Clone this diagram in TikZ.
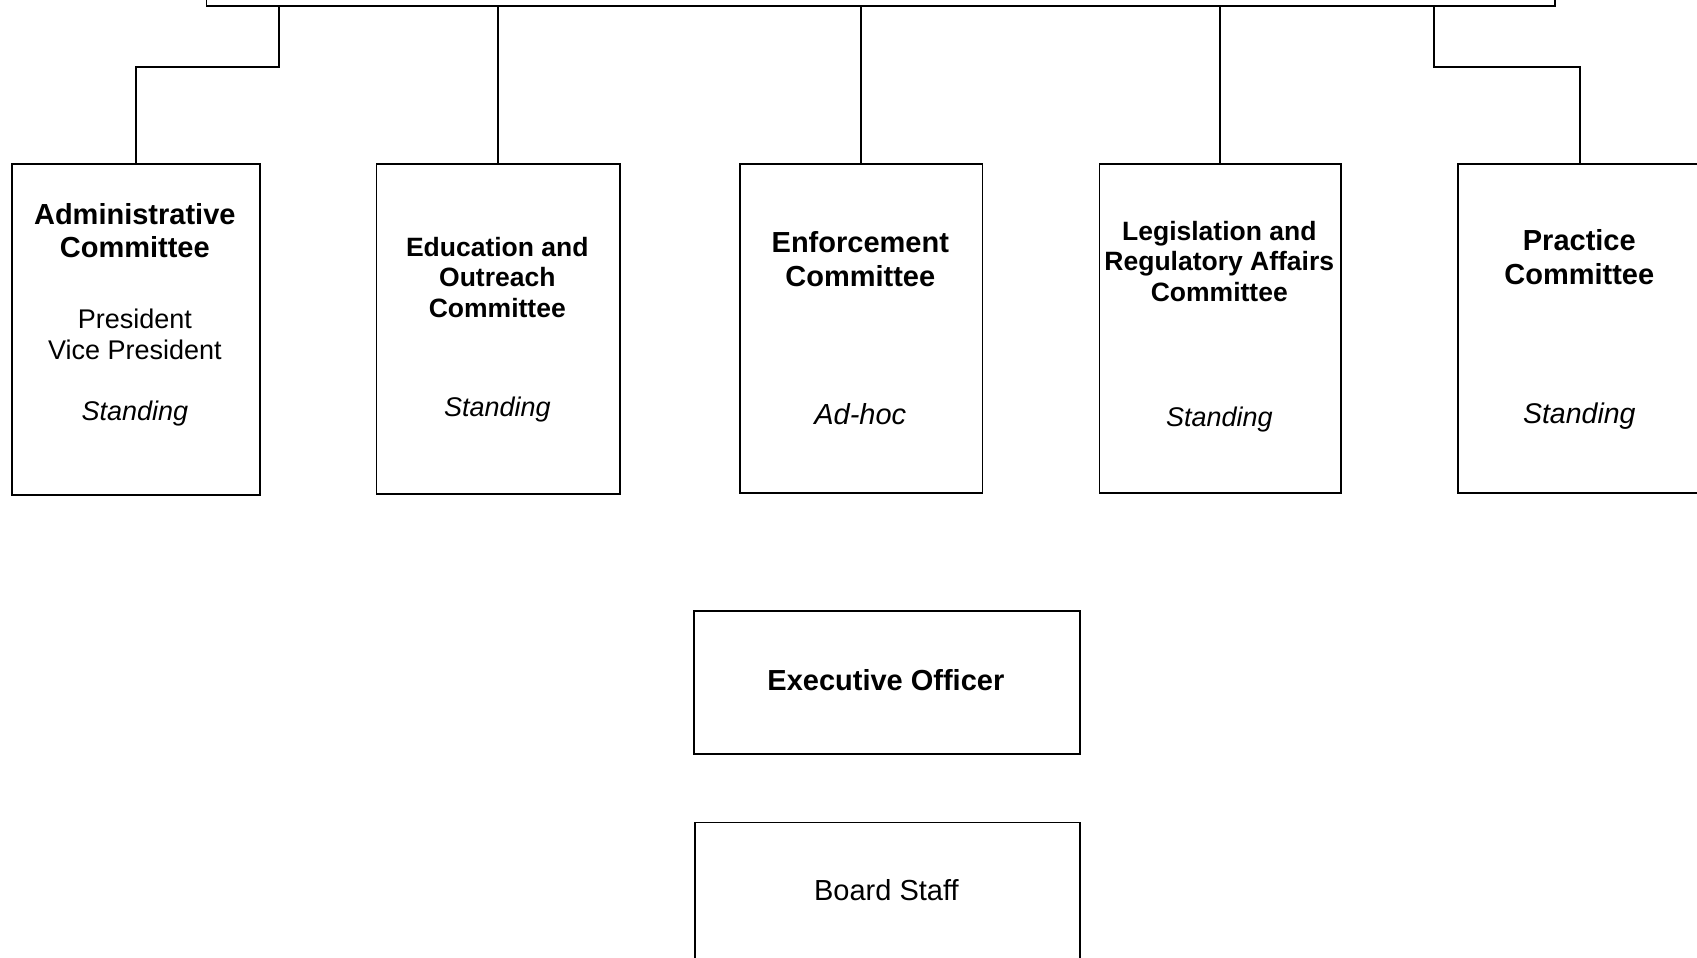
\documentclass[tikz,border=0pt]{standalone}
\usepackage{fontspec}
\setmainfont{Liberation Sans}
\begin{document}
\begin{tikzpicture}[x=1pt,y=-1pt,
  box/.style={draw, rectangle, inner sep=0pt, anchor=north west, line width=1.8pt},
  link/.style={line width=1.6pt},
  tbig/.style={anchor=base, inner sep=0pt, font=\bfseries\fontsize{29}{34}\selectfont},
  tmid/.style={anchor=base, inner sep=0pt, font=\bfseries\fontsize{26.5}{31}\selectfont},
  treg/.style={anchor=base, inner sep=0pt, font=\fontsize{27}{31}\selectfont},
  tit/.style={anchor=base, inner sep=0pt, font=\itshape\fontsize{27}{31}\selectfont}]
\useasboundingbox (0,0) rectangle (1697,958);
\clip (0,0) rectangle (1697,958);
% boxes
\node[box, anchor=south west, minimum width=1348.4pt, minimum height=80pt] (board) at (205.6,7) {};
\node[box, minimum width=248pt, minimum height=331pt] (admin) at (10.8,163.4) {};
\node[box, minimum width=243.4pt, minimum height=330pt] (edu) at (375.6,163.4) {};
\node[box, minimum width=242.6pt, minimum height=329pt] (enf) at (739,163.4) {};
\node[box, minimum width=241.5pt, minimum height=329pt] (leg) at (1098.5,163.4) {};
\node[box, minimum width=245pt, minimum height=329pt] (prac) at (1456.8,163.4) {};
\node[box, minimum width=386.3pt, minimum height=143pt] (exec) at (692.7,610.4) {};
\node[box, minimum width=385.2pt, minimum height=160pt] (staff) at (693.8,821.5) {};
% connectors
\coordinate (j1) at (279,67);
\coordinate (j5) at (1434,67);
\draw[link] (j1 |- board.south) -- (j1) -| (admin.north);
\draw[link] (edu.north |- board.south) -- (edu.north);
\draw[link] (enf.north |- board.south) -- (enf.north);
\draw[link] (leg.north |- board.south) -- (leg.north);
\draw[link] (j5 |- board.south) -- (j5) -| (prac.north);
% administrative
\node[tbig] (a1) at (134.8,224) {Administrative};
\node[tbig] (a2) at (134.8,257.5) {Committee};
\node[treg] (a3) at (134.8,328.5) {President};
\node[treg] (a4) at (134.8,359.5) {Vice President};
\node[tit] (a5) at (134.8,420.5) {Standing};
% education
\node[tmid] (e1) at (497.3,256) {Education and};
\node[tmid] (e2) at (497.3,286.5) {Outreach};
\node[tmid] (e3) at (497.3,317) {Committee};
\node[tit] (e4) at (497.3,416.5) {Standing};
% enforcement
\node[tbig] (f1) at (860.3,252) {Enforcement};
\node[tbig] (f2) at (860.3,286.5) {Committee};
\node[tit, font=\itshape\fontsize{29}{33}\selectfont] (f3) at (860.3,424) {Ad-hoc};
% legislation
\node[tmid] (l1) at (1219.3,240) {Legislation and};
\node[tmid] (l2) at (1219.3,270.7) {Regulatory Affairs};
\node[tmid] (l3) at (1219.3,301.5) {Committee};
\node[tit] (l4) at (1219.3,426) {Standing};
% practice
\node[tbig] (p1) at (1579.3,250.5) {Practice};
\node[tbig] (p2) at (1579.3,284) {Committee};
\node[tit, font=\itshape\fontsize{28.5}{33}\selectfont] (p3) at (1579.3,423) {Standing};
% executive + staff
\node[tbig] (x1) at (885.9,690) {Executive Officer};
\node[treg, font=\fontsize{29}{33}\selectfont] (s1) at (886.4,900) {Board Staff};
\end{tikzpicture}
\end{document}
